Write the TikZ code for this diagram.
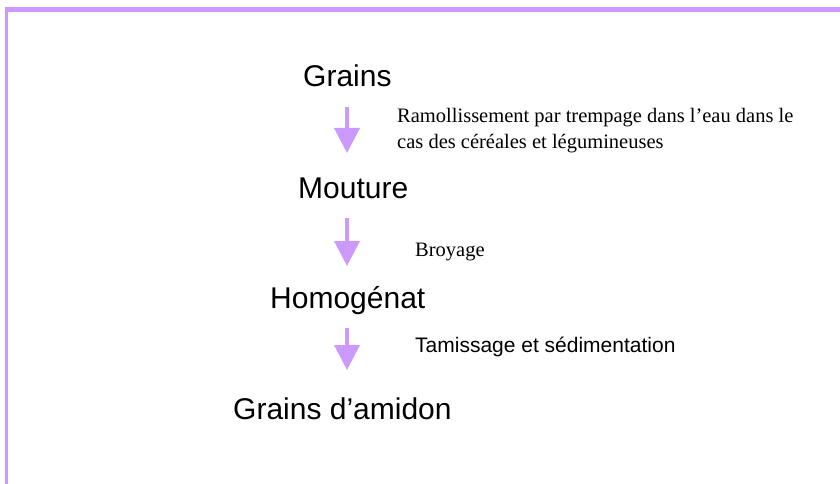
\documentclass[tikz,border=0pt]{standalone}
\usepackage{fontspec}
\setmainfont{Liberation Serif}
\setsansfont{Liberation Sans}
\usepackage{tikz}
\usetikzlibrary{arrows.meta,positioning}
\definecolor{lilas}{HTML}{CC99FF}

\begin{document}
\begin{tikzpicture}[
  x=1pt, y=-1pt,
  stage/.style={anchor=base west, inner sep=0pt, font=\sffamily\fontsize{30}{36}\selectfont},
  note/.style={anchor=base west, inner sep=0pt, align=left, font=\rmfamily\fontsize{20.5}{25}\selectfont},
  notesf/.style={anchor=base west, inner sep=0pt, font=\sffamily\fontsize{21}{25}\selectfont},
  flow/.style={-{Triangle[length=25pt,width=25pt]}, line width=4pt, draw=lilas, fill=lilas}
]
\useasboundingbox (0,0) rectangle (840,484);
% cadre
\draw[lilas, line width=5pt] (5,10) -- (840,10);
\draw[lilas, line width=3.4pt] (6.7,7.5) -- (6.7,484);
% etapes
\node[stage] (grains) at (303,87) {Grains};
\node[stage] (mouture) at (298,198) {Mouture};
\node[stage] (homog) at (270,308) {Homogénat};
\node[stage] (amidon) at (233,419) {Grains d’amidon};
% fleches
\coordinate (f1a) at (347,107); \coordinate (f1b) at (347,153);
\coordinate (f2a) at (347,218); \coordinate (f2b) at (347,266);
\coordinate (f3a) at (347,328); \coordinate (f3b) at (347,370);
\draw[flow] (f1a) -- (f1b);
\draw[flow] (f2a) -- (f2b);
\draw[flow] (f3a) -- (f3b);
% traitements
\node[note] (tremp) at (397,148) {Ramollissement par trempage dans l’eau dans le\\cas des céréales et légumineuses};
\node[note] (broy) at (415,256) {Broyage};
\node[notesf] (tamis) at (415,352) {Tamissage et sédimentation};
\end{tikzpicture}
\end{document}
